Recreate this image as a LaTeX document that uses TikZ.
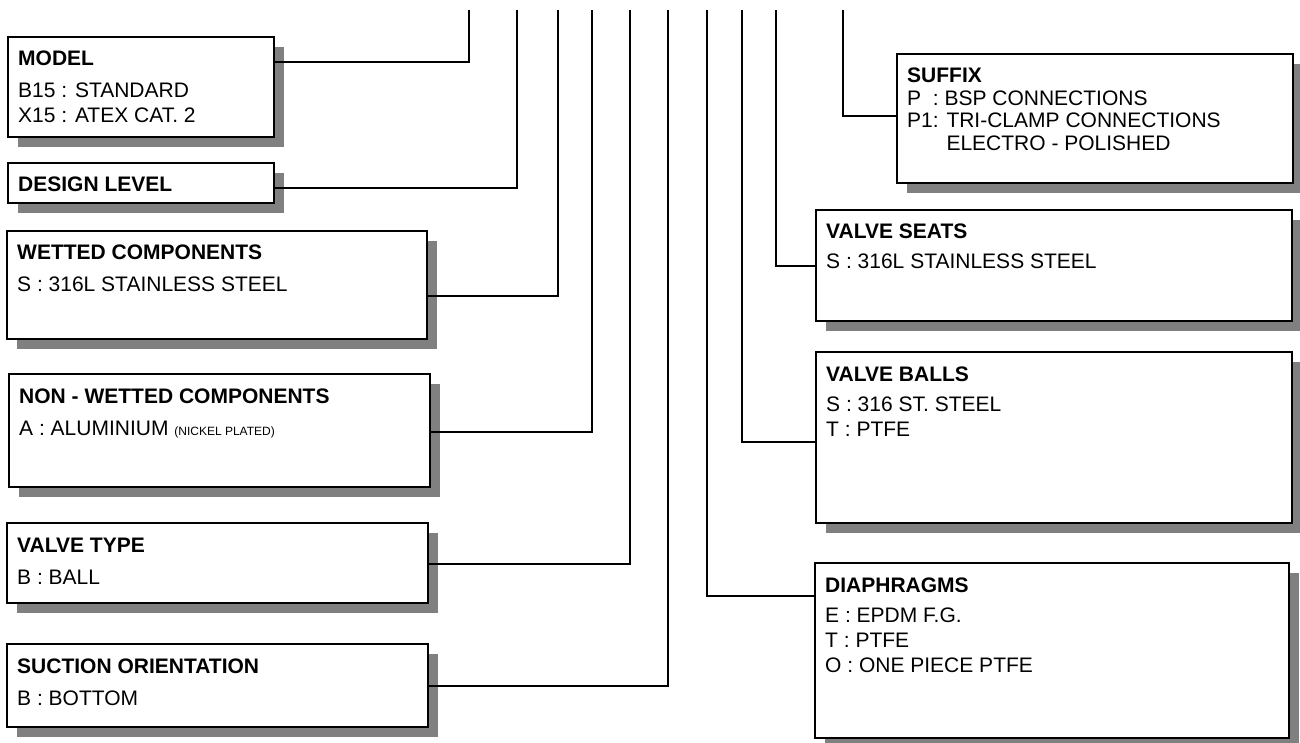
\documentclass[tikz,border=0pt]{standalone}
\usepackage{fontspec}
\setmainfont{Liberation Sans}
\usetikzlibrary{shadows}

\newcommand{\entries}[1]{\begin{tabular}[t]{@{}l@{}}#1\end{tabular}}

\begin{document}
\begin{tikzpicture}[x=1pt,y=-1pt,
	box/.style={draw,line width=2.4pt,fill=white,inner sep=0pt,outer sep=0pt,anchor=north west,
		drop shadow={shadow xshift=10pt,shadow yshift=-10pt,fill=gray,opacity=1}},
	txt/.style={anchor=base west,inner sep=0pt,font=\fontsize{21}{25}\selectfont},
	wire/.style={line width=2pt}]
\useasboundingbox (0,0) rectangle (1300,743);

\node[box,minimum width=266pt,minimum height=100pt] (model) at (8,37) {};
\node[box,minimum width=266pt,minimum height=40pt] (design) at (8,163) {};
\node[box,minimum width=420pt,minimum height=108pt] (wetted) at (7,231) {};
\node[box,minimum width=421pt,minimum height=113pt] (nonwet) at (9,374) {};
\node[box,minimum width=421pt,minimum height=80pt] (vtype) at (7,523) {};
\node[box,minimum width=421pt,minimum height=83pt] (suction) at (7,644) {};
\node[box,minimum width=396pt,minimum height=129pt] (suffix) at (897,54) {};
\node[box,minimum width=476pt,minimum height=111pt] (seats) at (816,210) {};
\node[box,minimum width=476pt,minimum height=171pt] (balls) at (816,352) {};
\node[box,minimum width=474pt,minimum height=175pt] (diaph) at (815,563) {};

\node[txt] (model text) at ([shift={(10,29)}]model.north west)
	{\entries{\textbf{MODEL}\\[7pt] B15 : STANDARD\\ X15 : ATEX CAT. 2}};
\node[txt] (design text) at ([shift={(10,29)}]design.north west)
	{\entries{\textbf{DESIGN LEVEL}}};
\node[txt] (wetted text) at ([shift={(10,29)}]wetted.north west)
	{\entries{\textbf{WETTED COMPONENTS}\\[7pt] S : 316L STAINLESS STEEL}};
\node[txt] (nonwet text) at ([shift={(10,29)}]nonwet.north west)
	{\entries{\textbf{NON - WETTED COMPONENTS}\\[7pt] A : ALUMINIUM {\fontsize{12}{12}\selectfont (NICKEL PLATED)}}};
\node[txt] (vtype text) at ([shift={(10,29)}]vtype.north west)
	{\entries{\textbf{VALVE TYPE}\\[7pt] B : BALL}};
\node[txt] (suction text) at ([shift={(10,29)}]suction.north west)
	{\entries{\textbf{SUCTION ORIENTATION}\\[7pt] B : BOTTOM}};
\node[txt,font=\fontsize{21}{22.5}\selectfont] (suffix text) at ([shift={(10,29)}]suffix.north west)
	{\entries{\textbf{SUFFIX}\\ P\ \ : BSP CONNECTIONS\\ P1: TRI-CLAMP CONNECTIONS\\ \hphantom{P1: }ELECTRO - POLISHED}};
\node[txt] (seats text) at ([shift={(10,29)}]seats.north west)
	{\entries{\textbf{VALVE SEATS}\\[5pt] S : 316L STAINLESS STEEL}};
\node[txt] (balls text) at ([shift={(10,29)}]balls.north west)
	{\entries{\textbf{VALVE BALLS}\\[5pt] S : 316 ST. STEEL\\ T : PTFE}};
\node[txt] (diaph text) at ([shift={(10,29)}]diaph.north west)
	{\entries{\textbf{DIAPHRAGMS}\\[5pt] E : EPDM F.G.\\ T : PTFE\\ O : ONE PIECE PTFE}};

\foreach \n/\x/\y in {model/469/62,design/517/188,wetted/558/296,nonwet/592/432,vtype/630/564,suction/668/686}
	{\coordinate (t\n) at (\x,10);
	\coordinate (k\n) at (\x,\y);
	\draw[wire] (t\n) -- (k\n) -- (\n.east |- k\n);}

\foreach \n/\x/\y in {diaph/707/596,balls/742/442,seats/776/266,suffix/843/116}
	{\coordinate (t\n) at (\x,10);
	\coordinate (k\n) at (\x,\y);
	\draw[wire] (t\n) -- (k\n) -- (\n.west |- k\n);}
\end{tikzpicture}
\end{document}
